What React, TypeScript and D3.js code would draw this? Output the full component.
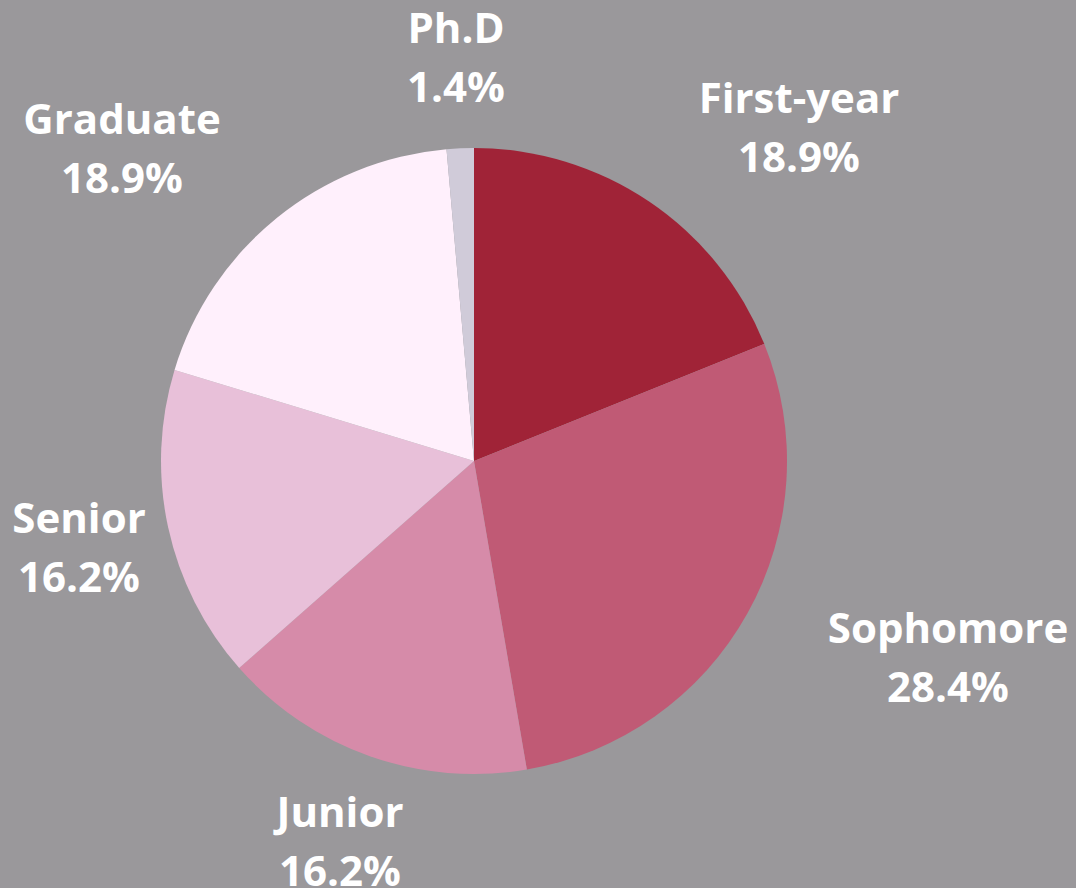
import React from "react";
import * as d3 from "d3";

const categories = ["First-year", "Sophomore", "Junior", "Senior", "Graduate", "Ph.D"];
const values = [18.9, 28.4, 16.2, 16.2, 18.9, 1.4];
const colors = ["#a02337", "#c05a75", "#d68ba9", "#e8c0d9", "#fff0fc", "#d0cbd9"];

// label first-line baseline offsets from pie centre (layout only)
const labelOffsets: [number, number][] = [
  [325, -348],
  [474, 182],
  [-134, 366],
  [-395, 72],
  [-352, -327],
  [-18, -418],
];

const W = 1076;
const H = 888;
const CX = 474;
const CY = 461;
const R = 313;
const LINE = 59;

export default function App() {
  const pie = d3
    .pie<number>()
    .sort(null)
    .value((d) => d)
    .startAngle(0)
    .endAngle(2 * Math.PI);
  const arcs = pie(values);
  const arc = d3.arc<d3.PieArcDatum<number>>().innerRadius(0).outerRadius(R);

  return (
    <svg
      width={W}
      height={H}
      style={{ position: "absolute", left: 0, top: 0, display: "block" }}
    >
      <rect x={0} y={0} width={W} height={H} fill="#9a989b" />
      <g transform={`translate(${CX},${CY})`}>
        {arcs.map((a, i) => (
          <path key={categories[i]} d={arc(a) || ""} fill={colors[i]} />
        ))}
        {arcs.map((a, i) => (
          <text
            key={"l" + i}
            x={labelOffsets[i][0]}
            y={labelOffsets[i][1]}
            textAnchor="middle"
            fill="#ffffff"
            fontFamily="'Open Sans', sans-serif"
            fontWeight={700}
            fontSize={42}
          >
            <tspan x={labelOffsets[i][0]}>{categories[i]}</tspan>
            <tspan x={labelOffsets[i][0]} dy={LINE}>
              {values[i].toFixed(1)}%
            </tspan>
          </text>
        ))}
      </g>
    </svg>
  );
}
